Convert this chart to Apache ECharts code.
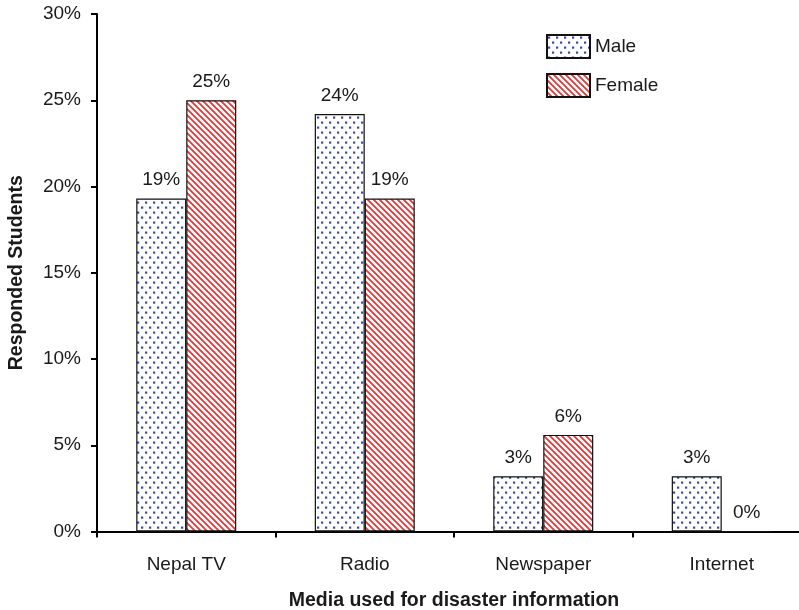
<!DOCTYPE html>
<html>
<head>
<meta charset="utf-8">
<script src="https://cdn.jsdelivr.net/npm/echarts@6/dist/echarts.min.js"></script>
<style>
  html, body { margin: 0; padding: 0; background: #fff; }
  #chart { width: 799px; height: 610px; }
</style>
</head>
<body>
<div id="chart"></div>
<script>
// Share of responding students per media source, by gender (%)
const categories = ['Nepal TV', 'Radio', 'Newspaper', 'Internet'];
const maleValues = [19.3, 24.2, 3.2, 3.2];
const femaleValues = [25.0, 19.3, 5.6, 0];
const yTicks = [0, 5, 10, 15, 20, 25, 30];

// Dotted fill for the male bars
function dotPattern() {
  const c = document.createElement('canvas');
  c.width = 8; c.height = 10;
  const g = c.getContext('2d');
  g.fillStyle = '#ffffff';
  g.fillRect(0, 0, 8, 10);
  g.fillStyle = '#3b4ba3';
  g.fillRect(1, 1.5, 2.2, 2.2);
  g.fillRect(5, 6.5, 2.2, 2.2);
  return c;
}

// Diagonal hatch fill for the female bars
function hatchPattern() {
  const s = 6;
  const c = document.createElement('canvas');
  c.width = s; c.height = s;
  const g = c.getContext('2d');
  g.fillStyle = '#ffffff';
  g.fillRect(0, 0, s, s);
  g.strokeStyle = '#e03636';
  g.lineWidth = 1.7;
  g.beginPath();
  g.moveTo(-1, -1); g.lineTo(s + 1, s + 1);
  g.moveTo(-1, s - 1); g.lineTo(1, s + 1);
  g.moveTo(s - 1, -1); g.lineTo(s + 1, 1);
  g.stroke();
  return c;
}

const font = 'Arial, "Liberation Sans", sans-serif';
const textColor = '#1a1a1a';
const fs = 19;

const chart = echarts.init(document.getElementById('chart'), null, { renderer: 'canvas' });

const labelOpt = {
  show: true,
  position: 'top',
  distance: 9,
  fontSize: fs,
  fontFamily: font,
  color: textColor,
  formatter: p => Math.round(p.value) + '%'
};

chart.setOption({
  backgroundColor: '#ffffff',
  animation: false,
  grid: { left: 97, top: 14, width: 714, height: 517.5, containLabel: false, outerBoundsMode: 'none' },
  legend: {
    orient: 'vertical',
    left: 546,
    top: 34,
    padding: 0,
    itemWidth: 43,
    itemHeight: 23,
    itemGap: 14,
    icon: 'rect',
    textStyle: { fontSize: fs, fontFamily: font, color: textColor },
    data: ['Male', 'Female']
  },
  xAxis: {
    type: 'category',
    data: categories,
    name: 'Media used for disaster information',
    nameLocation: 'middle',
    nameGap: 59,
    nameTextStyle: { fontSize: 19.5, fontWeight: 'bold', fontFamily: font, color: textColor },
    axisLine: { lineStyle: { color: '#000', width: 2 } },
    axisTick: { show: true, length: 6, lineStyle: { color: '#000', width: 2 } },
    axisLabel: { fontSize: fs, fontFamily: font, color: textColor, margin: 24 }
  },
  yAxis: {
    type: 'value',
    min: yTicks[0],
    max: yTicks[yTicks.length - 1],
    interval: 5,
    name: 'Responded Students',
    nameLocation: 'middle',
    nameGap: 70,
    nameRotate: 90,
    nameTextStyle: { fontSize: 19.5, fontWeight: 'bold', fontFamily: font, color: textColor },
    splitLine: { show: false },
    axisLine: { show: true, lineStyle: { color: '#000', width: 2 } },
    axisTick: { show: true, length: 6, lineStyle: { color: '#000', width: 2 } },
    axisLabel: { fontSize: fs, fontFamily: font, color: textColor, margin: 16, formatter: v => v + '%' }
  },
  series: [
    {
      name: 'Male',
      type: 'bar',
      data: maleValues,
      barWidth: 50,
      barGap: '0%',
      itemStyle: { color: { image: dotPattern(), repeat: 'repeat' }, borderColor: '#111', borderWidth: 1.2 },
      label: labelOpt
    },
    {
      name: 'Female',
      type: 'bar',
      data: femaleValues,
      barWidth: 50,
      barGap: '0%',
      itemStyle: { color: { image: hatchPattern(), repeat: 'repeat' }, borderColor: '#111', borderWidth: 1.2 },
      label: labelOpt
    }
  ]
});
</script>
</body>
</html>
